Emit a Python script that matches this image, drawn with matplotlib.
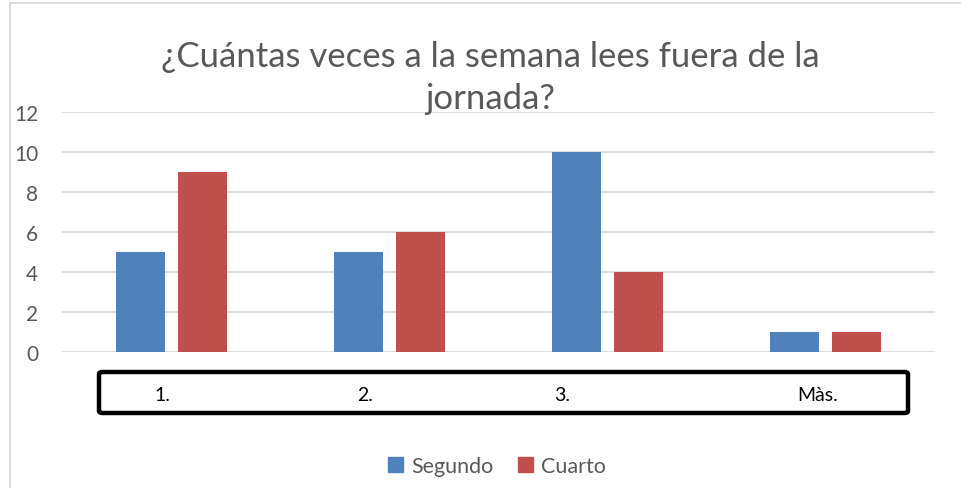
import matplotlib
matplotlib.use("Agg")
import matplotlib.pyplot as plt
from matplotlib.patches import FancyBboxPatch, Rectangle
from matplotlib.lines import Line2D
import matplotlib.transforms as mtransforms
import numpy as np

categories = ["1.", "2.", "3.", "Màs."]
segundo = [5, 5, 10, 1]
cuarto = [9, 6, 4, 1]
series_names = ["Segundo", "Cuarto"]
yticks = [0, 2, 4, 6, 8, 10, 12]
title = "¿Cuántas veces a la semana lees fuera de la\njornada?"

plt.rcParams["font.family"] = ["Lato", "DejaVu Sans"]

W, H = 961, 489
fig = plt.figure(figsize=(W / 100, H / 100), dpi=100)

def fx(px):
    return px / W

def fy(py):
    return 1 - py / H

# plot area
ax = fig.add_axes([fx(62), fy(353), fx(935) - fx(62), fy(113) - fy(353)])
x = np.arange(len(categories))
bw = 0.225
off = 0.142
blue = "#4F81BD"
red = "#C0504D"
ax.bar(x - off, segundo, bw, color=blue, zorder=3)
ax.bar(x + off, cuarto, bw, color=red, zorder=3)
ax.set_xlim(-0.5, len(categories) - 0.5)
ax.set_ylim(0, 12)
ax.set_yticks(yticks)
ax.set_yticklabels([str(v) for v in yticks])
ax.yaxis.grid(True, color="#D9D9D9", linewidth=1.3, zorder=0)
ax.set_axisbelow(True)
for s in ax.spines.values():
    s.set_visible(False)
ax.tick_params(axis="y", length=0, pad=17, labelsize=15, labelcolor="#595959")
ax.set_xticks([])

# black box holding the category labels
box = FancyBboxPatch((fx(99), fy(414)), fx(908) - fx(99), fy(373) - fy(414),
                     boxstyle="round,pad=0,rounding_size=0.004",
                     transform=fig.transFigure, facecolor="white",
                     edgecolor="black", linewidth=3.2)
fig.patches.append(box)
label_shift = [-0.04, -0.11, -0.21, -0.04]
trans = mtransforms.blended_transform_factory(ax.transData, fig.transFigure)
for i, (c, sh) in enumerate(zip(categories, label_shift)):
    fig.text(i + sh, fy(396), c, transform=trans, ha="center", va="center",
             fontsize=14, color="black")

# outer chart border (top and left)
fig.add_artist(Line2D([fx(10), 1], [fy(4), fy(4)], transform=fig.transFigure,
                      color="#D9D9D9", linewidth=1.3))
fig.add_artist(Line2D([fx(10), fx(10)], [fy(4), 0], transform=fig.transFigure,
                      color="#D9D9D9", linewidth=1.3))

# title
fig.text(fx(490), fy(78), title, ha="center", va="center", fontsize=25,
         color="#595959", linespacing=1.35)

# legend
handles = [Rectangle((0, 0), 1, 1, color=blue), Rectangle((0, 0), 1, 1, color=red)]
fig.legend(handles, series_names, loc="center", bbox_to_anchor=(fx(497), fy(467)),
           ncol=2, frameon=False, fontsize=15.5, labelcolor="#595959",
           handlelength=0.7, handleheight=0.7, handletextpad=0.4, columnspacing=1.1)

fig.savefig("out.png", dpi=100, facecolor="white")
